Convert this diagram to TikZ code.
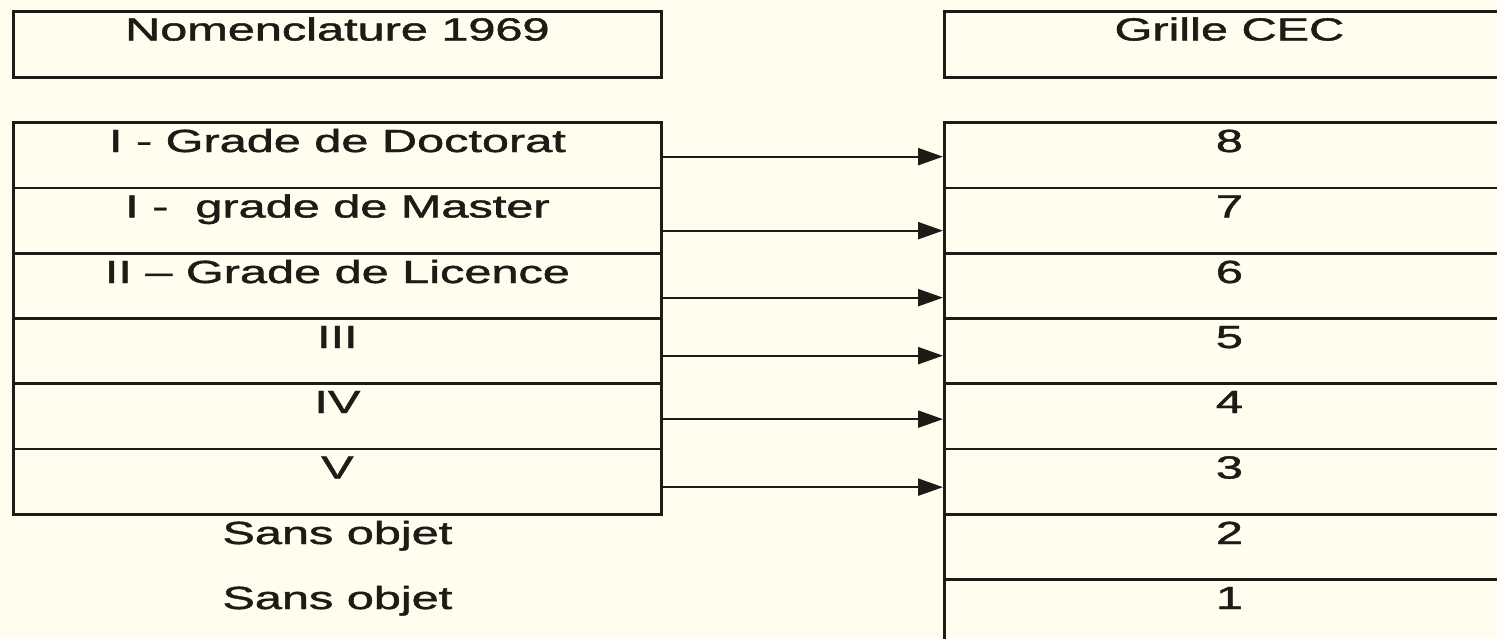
\documentclass[tikz,border=0pt]{standalone}
\usepackage{fontspec}
\setmainfont{Liberation Sans}
\newfontfamily\heavyfont{Liberation Sans}[FakeBold=1.2]
\usetikzlibrary{arrows.meta,calc}
\definecolor{bgcol}{HTML}{FFFDEE}
\definecolor{ink}{HTML}{1E1A15}
\newcommand{\widetxt}[1]{\scalebox{1.52}[1]{#1}}
\begin{document}
\begin{tikzpicture}[x=1pt,y=-1pt,
  box/.style={draw=ink,line width=2.8pt,rectangle,inner sep=0pt,anchor=north west,minimum height=65.5pt},
  lbox/.style={box,minimum width=648pt},
  rbox/.style={box,minimum width=570pt},
  txt/.style={inner sep=0pt,anchor=base,text=ink,font=\heavyfont\fontsize{32}{38}\selectfont},
  arr/.style={draw=ink,line width=2.2pt,-{Triangle[length=25pt,width=17pt]}}]
\fill[bgcol] (0,0) rectangle (1497,638);
\useasboundingbox (0,0) rectangle (1497,638);
\clip (0,0) rectangle (1497,638);
% headers
\node[lbox,minimum height=66pt] (LH) at (12,10) {};
\node[rbox,minimum height=66pt] (RH) at (943,10) {};
% left rows
\node[lbox] (L1) at (12,121) {};
\node[lbox] (L2) at (12,186.5) {};
\node[lbox] (L3) at (12,252) {};
\node[lbox] (L4) at (12,317) {};
\node[lbox] (L5) at (12,382) {};
\node[lbox] (L6) at (12,447.5) {};
% right rows
\node[rbox] (R1) at (943,121) {};
\node[rbox] (R2) at (943,186.5) {};
\node[rbox] (R3) at (943,252) {};
\node[rbox] (R4) at (943,317) {};
\node[rbox] (R5) at (943,382) {};
\node[rbox] (R6) at (943,447.5) {};
\node[rbox] (R7) at (943,513) {};
\node[rbox] (R8) at (943,578) {};
% texts
\node[txt] (tLH) at ($(LH.north)+(0,30.5)$) {\widetxt{Nomenclature 1969}};
\node[txt] (tRH) at ($(RH.north)+(0,30.5)$) {\widetxt{Grille CEC}};
\node[txt] (tL1) at ($(L1.north)+(0,31)$) {\widetxt{I - Grade de Doctorat}};
\node[txt] (tL2) at ($(L2.north)+(0,31)$) {\widetxt{I -\ \ grade de Master}};
\node[txt] (tL3) at ($(L3.north)+(0,31)$) {\widetxt{II – Grade de Licence}};
\node[txt] (tL4) at ($(L4.north)+(0,31)$) {\widetxt{III}};
\node[txt] (tL5) at ($(L5.north)+(0,31)$) {\widetxt{IV}};
\node[txt] (tL6) at ($(L6.north)+(0,31)$) {\widetxt{V}};
\node[txt] (tS1) at ($(R7.north -| L6.south)+(0,31)$) {\widetxt{Sans objet}};
\node[txt] (tS2) at ($(R8.north -| L6.south)+(0,31)$) {\widetxt{Sans objet}};
\node[txt] (tR1) at ($(R1.north)+(0,31)$) {\widetxt{8}};
\node[txt] (tR2) at ($(R2.north)+(0,31)$) {\widetxt{7}};
\node[txt] (tR3) at ($(R3.north)+(0,31)$) {\widetxt{6}};
\node[txt] (tR4) at ($(R4.north)+(0,31)$) {\widetxt{5}};
\node[txt] (tR5) at ($(R5.north)+(0,31)$) {\widetxt{4}};
\node[txt] (tR6) at ($(R6.north)+(0,31)$) {\widetxt{3}};
\node[txt] (tR7) at ($(R7.north)+(0,31)$) {\widetxt{2}};
\node[txt] (tR8) at ($(R8.north)+(0,31)$) {\widetxt{1}};
% arrows
\draw[arr] ([yshift=-1.5pt]L1.east) -- ([yshift=-1.5pt]R1.west);
\draw[arr] ([yshift=-10pt]L2.east) -- ([yshift=-10pt]R2.west);
\draw[arr] ([yshift=-11.5pt]L3.east) -- ([yshift=-11.5pt]R3.west);
\draw[arr] ([yshift=-4.5pt]L4.east) -- ([yshift=-4.5pt]R4.west);
\draw[arr] ([yshift=-3pt]L5.east) -- ([yshift=-3pt]R5.west);
\draw[arr] ([yshift=-5.5pt]L6.east) -- ([yshift=-5.5pt]R6.west);
\end{tikzpicture}
\end{document}
